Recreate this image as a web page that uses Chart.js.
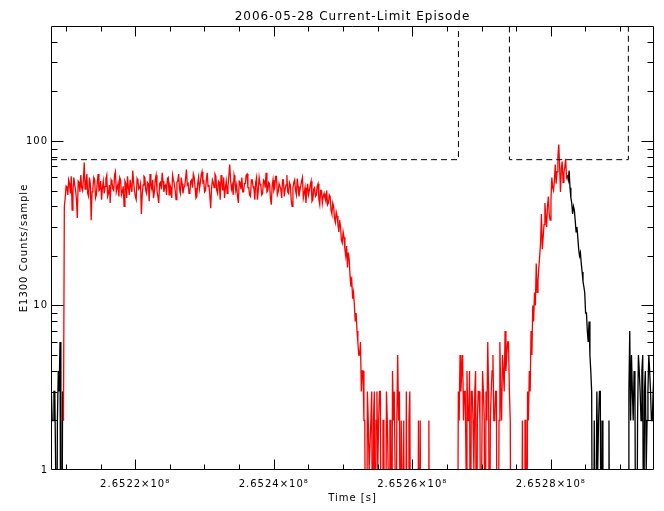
<!DOCTYPE html>
<html>
<head>
<meta charset="utf-8">
<script src="https://cdn.jsdelivr.net/npm/chart.js@4"></script>
<style>
  body { margin: 0; background: #fff; }
  canvas { display: block; }
</style>
</head>
<body>
<canvas id="episode-chart" width="664" height="511"></canvas>
<script>
const titleText = "2006-05-28 Current-Limit Episode";

// sample clock
const sampleStart = 265207900;
const sampleStep = 125;

// counts, one per sample
const blackLeadCounts = [3, 2, 2, 3, 3, 1, 0, 2, 4, 3, 6, 0, 0, 3, 2];

const redStartIndex = 14;
const redCounts = [
  2, 40,
  45, 53, 52, 47, 58, 55, 48, 61, 38, 50, 60, 54, 50, 44, 34, 57, 56, 49, 62, 52,
  50, 58, 74, 51, 55, 63, 48, 46, 60, 55, 33, 49, 52, 60, 58, 45, 47, 56, 63, 50,
  51, 57, 44, 52, 57, 48, 53, 59, 62, 46, 48, 54, 42, 58, 56, 51, 50, 62, 65, 49,
  52, 55, 46, 60, 58, 47, 49, 53, 40, 57, 55, 45, 61, 52, 47, 58, 53, 49, 66, 56,
  50, 46, 44, 59, 57, 51, 52, 55, 36, 48, 54, 61, 60, 50, 48, 56, 55, 43, 63, 54,
  51, 58, 45, 49, 58, 62, 50, 46, 42, 55, 56, 51, 64, 57, 49, 53, 54, 47, 59, 60,
  47, 54, 52, 45, 62, 58, 55, 50, 44, 56, 57, 63, 51, 48, 60, 55, 48, 52, 53, 59,
  67, 54, 55, 48, 49, 57, 58, 52, 63, 60, 52, 45, 46, 55, 60, 51, 55, 62, 65, 56,
  57, 49, 50, 58, 64, 53, 54, 47, 39, 51, 58, 56, 52, 63, 61, 50, 48, 57, 56, 44,
  62, 55, 50, 60, 45, 52, 57, 48, 53, 61, 72, 58, 51, 54, 47, 62, 58, 50, 54, 46,
  42, 57, 56, 51, 60, 49, 49, 55, 55, 62, 63, 52, 52, 47, 46, 58, 58, 53, 51, 44,
  56, 60, 44, 50, 60, 55, 53, 47, 48, 58, 57, 52, 64, 49, 50, 56, 55, 45, 41, 53,
  58, 50, 52, 61, 61, 47, 49, 55, 55, 51, 45, 58, 58, 46, 51, 54, 62, 49, 48, 56,
  54, 44, 40, 52, 56, 58, 50, 47, 59, 53, 46, 50, 53, 57, 60, 45, 48, 52, 42, 49,
  55, 47, 50, 54, 57, 43, 44, 51, 52, 46, 47, 53, 55, 44, 41, 50, 50, 42, 46, 48,
  // roll-off
  45, 43, 50, 41, 42, 47, 46, 38, 36, 42, 40, 34, 32, 37, 35, 31, 28, 33, 30, 25,
  24, 28, 26, 22, 20, 23, 17, 21, 19, 15, 13, 14, 11, 12, 10, 8, 9, 7, 6, 5,
  5, 6, 3, 4, 4, 2,
  // near-zero counts
  2, 0, 0, 3, 2, 1, 1, 2, 3, 0, 2, 3, 0, 2, 3, 1, 2, 3, 3, 0,
  0, 2, 2, 0, 0, 3, 2, 1, 1, 2, 2, 0, 4, 2, 3, 1, 0, 2, 5, 2,
  3, 0, 2, 1, 0, 2, 0, 0, 3, 0, 0, 2, 3, 0, 0, 0, 0, 1, 0, 0,
  0, 0, 2, 0, 2, 0, 0, 0, 0, 0, 0, 0, 0, 1, 2, 0, 0, 0, 0, 0,
  0, 0, 0, 0, 0, 1, 0, 0, 0, 0, 0, 0, 0, 1, 0, 0, 0, 0, 0, 0,
  0, 0, 0, 0, 0, 0, 0, 0,
  3, 2, 5, 3, 4, 5, 2, 3, 3, 1, 4, 2, 2, 4, 0, 3, 3, 2, 1, 3,
  4, 0, 2, 3, 3, 2, 0, 1, 4, 3, 2, 0, 3, 2, 6, 3, 0, 2, 3, 4,
  5, 2, 2, 3, 3, 0, 0, 2, 6, 3, 2, 5, 4, 3, 7, 4, 5, 6, 6, 3,
  2, 0,
  0, 0, 0, 0, 0, 0, 0, 0, 0, 0, 0, 0, 2, 0, 0, 2, 2, 0, 3, 2,
  4, 3, 7, 5, 10, 8,
  // second rise
  12, 10, 18, 12, 14, 17, 20, 24, 36, 22, 26, 31, 42, 35, 30, 40, 46, 36, 33, 44,
  60, 52, 50, 58, 72, 55, 65, 80, 95, 70, 49, 68, 75, 56, 64, 70, 78, 60,
  62
];

const blackTailStartIndex = 596;
const blackTailCounts = [
  62, 58, 66, 52, 45, 42, 36, 40, 38, 33, 28, 30, 26, 22, 20, 21, 18, 16, 14, 13,
  12, 9, 9, 7, 6, 8, 5, 4, 3, 0, 0, 2, 0, 0, 3, 1, 2, 3, 3, 0,
  2, 0, 0, 0, 0, 0, 0, 0, 2, 0, 0, 0, 0, 0, 0, 0, 0, 0, 0, 0,
  1, 0, 0, 0, 0, 0, 0, 0, 0, 0, 0, 3, 7, 2, 5, 3, 2, 4, 3, 0,
  0, 2, 5, 4, 3, 2, 4, 5, 0, 3, 4, 1, 2, 3, 5, 4, 3, 2, 2, 3,
  4
];

// dashed limit boxes
const limitLevel = 77;
const limitTop = 1000;
const box1Edges = [265207850, 265266670];
const box2Edges = [265274030, 265291200];

// log axis has no zero, so empty samples are sent below the floor like IDL does
const zeroFloor = 0.1;

// axes
const xMin = 265207850;
const xMax = 265294900;
const xTickValues = [
  265210000, 265215000, 265220000, 265225000, 265230000, 265235000,
  265240000, 265245000, 265250000, 265255000, 265260000, 265265000,
  265270000, 265275000, 265280000, 265285000, 265290000
];
const xTickLabels = [
  "", "", "2.6522×10⁸", "", "", "",
  "2.6524×10⁸", "", "", "", "2.6526×10⁸", "",
  "", "", "2.6528×10⁸", "", ""
];
const yMin = 1;
const yMax = 500;
const yTickValues = [1, 2, 3, 4, 5, 6, 7, 8, 9, 10, 20, 30, 40, 50, 60, 70, 80, 90, 100, 200, 300, 400, 500];
const yTickLabels = ["1", "", "", "", "", "", "", "", "", "10", "", "", "", "", "", "", "", "", "100", "", "", "", ""];

function toPoints(counts, startIndex) {
  return counts.map((c, i) => ({
    x: sampleStart + (startIndex + i) * sampleStep,
    y: c > 0 ? c : zeroFloor
  }));
}

const idlFrame = {
  id: 'idlFrame',
  beforeLayout(chart) {
    chart.ctx.letterSpacing = '1px';
  },
  beforeDraw(chart) {
    chart.ctx.letterSpacing = '1px';
  },
  afterDatasetsDraw(chart) {
    const { ctx, chartArea, scales } = chart;
    const left = Math.round(chartArea.left) + 0.5;
    const right = Math.round(chartArea.right) - 0.5;
    const top = Math.round(chartArea.top) + 0.5;
    const bottom = Math.round(chartArea.bottom) - 0.5;

    ctx.save();
    ctx.strokeStyle = '#000';
    ctx.lineWidth = 1;
    ctx.beginPath();
    ctx.moveTo(left, top);
    ctx.lineTo(right, top);
    ctx.lineTo(right, bottom);
    ctx.lineTo(left, bottom);
    ctx.closePath();

    xTickValues.forEach((v, i) => {
      const px = Math.round(scales.x.getPixelForValue(v)) + 0.5;
      const len = xTickLabels[i] ? 10 : 5;
      ctx.moveTo(px, bottom);
      ctx.lineTo(px, bottom - len);
      ctx.moveTo(px, top);
      ctx.lineTo(px, top + len);
    });

    yTickValues.forEach((v, i) => {
      const py = Math.round(scales.y.getPixelForValue(v)) + 0.5;
      if (py < top + 1 || py > bottom - 1) return;
      const len = yTickLabels[i] ? 12 : 6;
      ctx.moveTo(left, py);
      ctx.lineTo(left + len, py);
      ctx.moveTo(right, py);
      ctx.lineTo(right - len, py);
    });
    ctx.stroke();
    ctx.restore();
  }
};

Chart.defaults.font.family = "'DejaVu Sans', sans-serif";
Chart.defaults.font.size = 10;
Chart.defaults.color = '#000';

const ctx = document.getElementById('episode-chart').getContext('2d');
new Chart(ctx, {
  type: 'line',
  data: {
    datasets: [
      {
        data: [
          { x: box1Edges[0], y: limitLevel },
          { x: box1Edges[1], y: limitLevel },
          { x: box1Edges[1], y: limitTop }
        ],
        borderColor: '#000',
        borderWidth: 1,
        borderDash: [6, 4]
      },
      {
        data: [
          { x: box2Edges[0], y: limitTop },
          { x: box2Edges[0], y: limitLevel },
          { x: box2Edges[1], y: limitLevel },
          { x: box2Edges[1], y: limitTop }
        ],
        borderColor: '#000',
        borderWidth: 1,
        borderDash: [6, 4]
      },
      {
        data: toPoints(redCounts, redStartIndex),
        borderColor: '#ff0000',
        borderWidth: 1.3
      },
      {
        data: toPoints(blackLeadCounts, 0),
        borderColor: '#000',
        borderWidth: 1.3
      },
      {
        data: toPoints(blackTailCounts, blackTailStartIndex),
        borderColor: '#000',
        borderWidth: 1.3
      }
    ]
  },
  options: {
    responsive: false,
    animation: false,
    devicePixelRatio: 1,
    layout: { padding: { left: 0, right: 10, top: 0, bottom: 0 } },
    elements: {
      point: { radius: 0 },
      line: { tension: 0, fill: false }
    },
    plugins: {
      legend: { display: false },
      tooltip: { enabled: false },
      title: {
        display: true,
        text: titleText,
        fullSize: false,
        color: '#000',
        font: { size: 12, weight: 'normal', lineHeight: 1 },
        padding: { top: 11, bottom: 3 }
      }
    },
    scales: {
      x: {
        type: 'linear',
        min: xMin,
        max: xMax,
        grid: { display: false, drawTicks: false },
        border: { display: false },
        ticks: {
          autoSkip: false,
          maxRotation: 0,
          padding: 8,
          callback: (value) => {
            const i = xTickValues.indexOf(value);
            return i >= 0 ? xTickLabels[i] : '';
          }
        },
        title: {
          display: true,
          text: 'Time [s]',
          padding: { top: 0, bottom: 7 }
        },
        afterBuildTicks: (scale) => {
          scale.ticks = xTickValues.map(v => ({ value: v }));
        },
        afterFit: (scale) => {
          scale.height = 41;
        }
      },
      y: {
        type: 'logarithmic',
        min: yMin,
        max: yMax,
        grid: { display: false, drawTicks: false },
        border: { display: false },
        ticks: {
          autoSkip: false,
          padding: 3,
          callback: (value) => {
            const i = yTickValues.indexOf(value);
            return i >= 0 ? yTickLabels[i] : '';
          }
        },
        title: {
          display: true,
          text: 'E1300 Counts/sample',
          padding: { top: 18, bottom: 0 }
        },
        afterBuildTicks: (scale) => {
          scale.ticks = yTickValues.map(v => ({ value: v }));
        },
        afterFit: (scale) => {
          scale.width = 51;
        }
      }
    }
  },
  plugins: [idlFrame]
});
</script>
</body>
</html>
